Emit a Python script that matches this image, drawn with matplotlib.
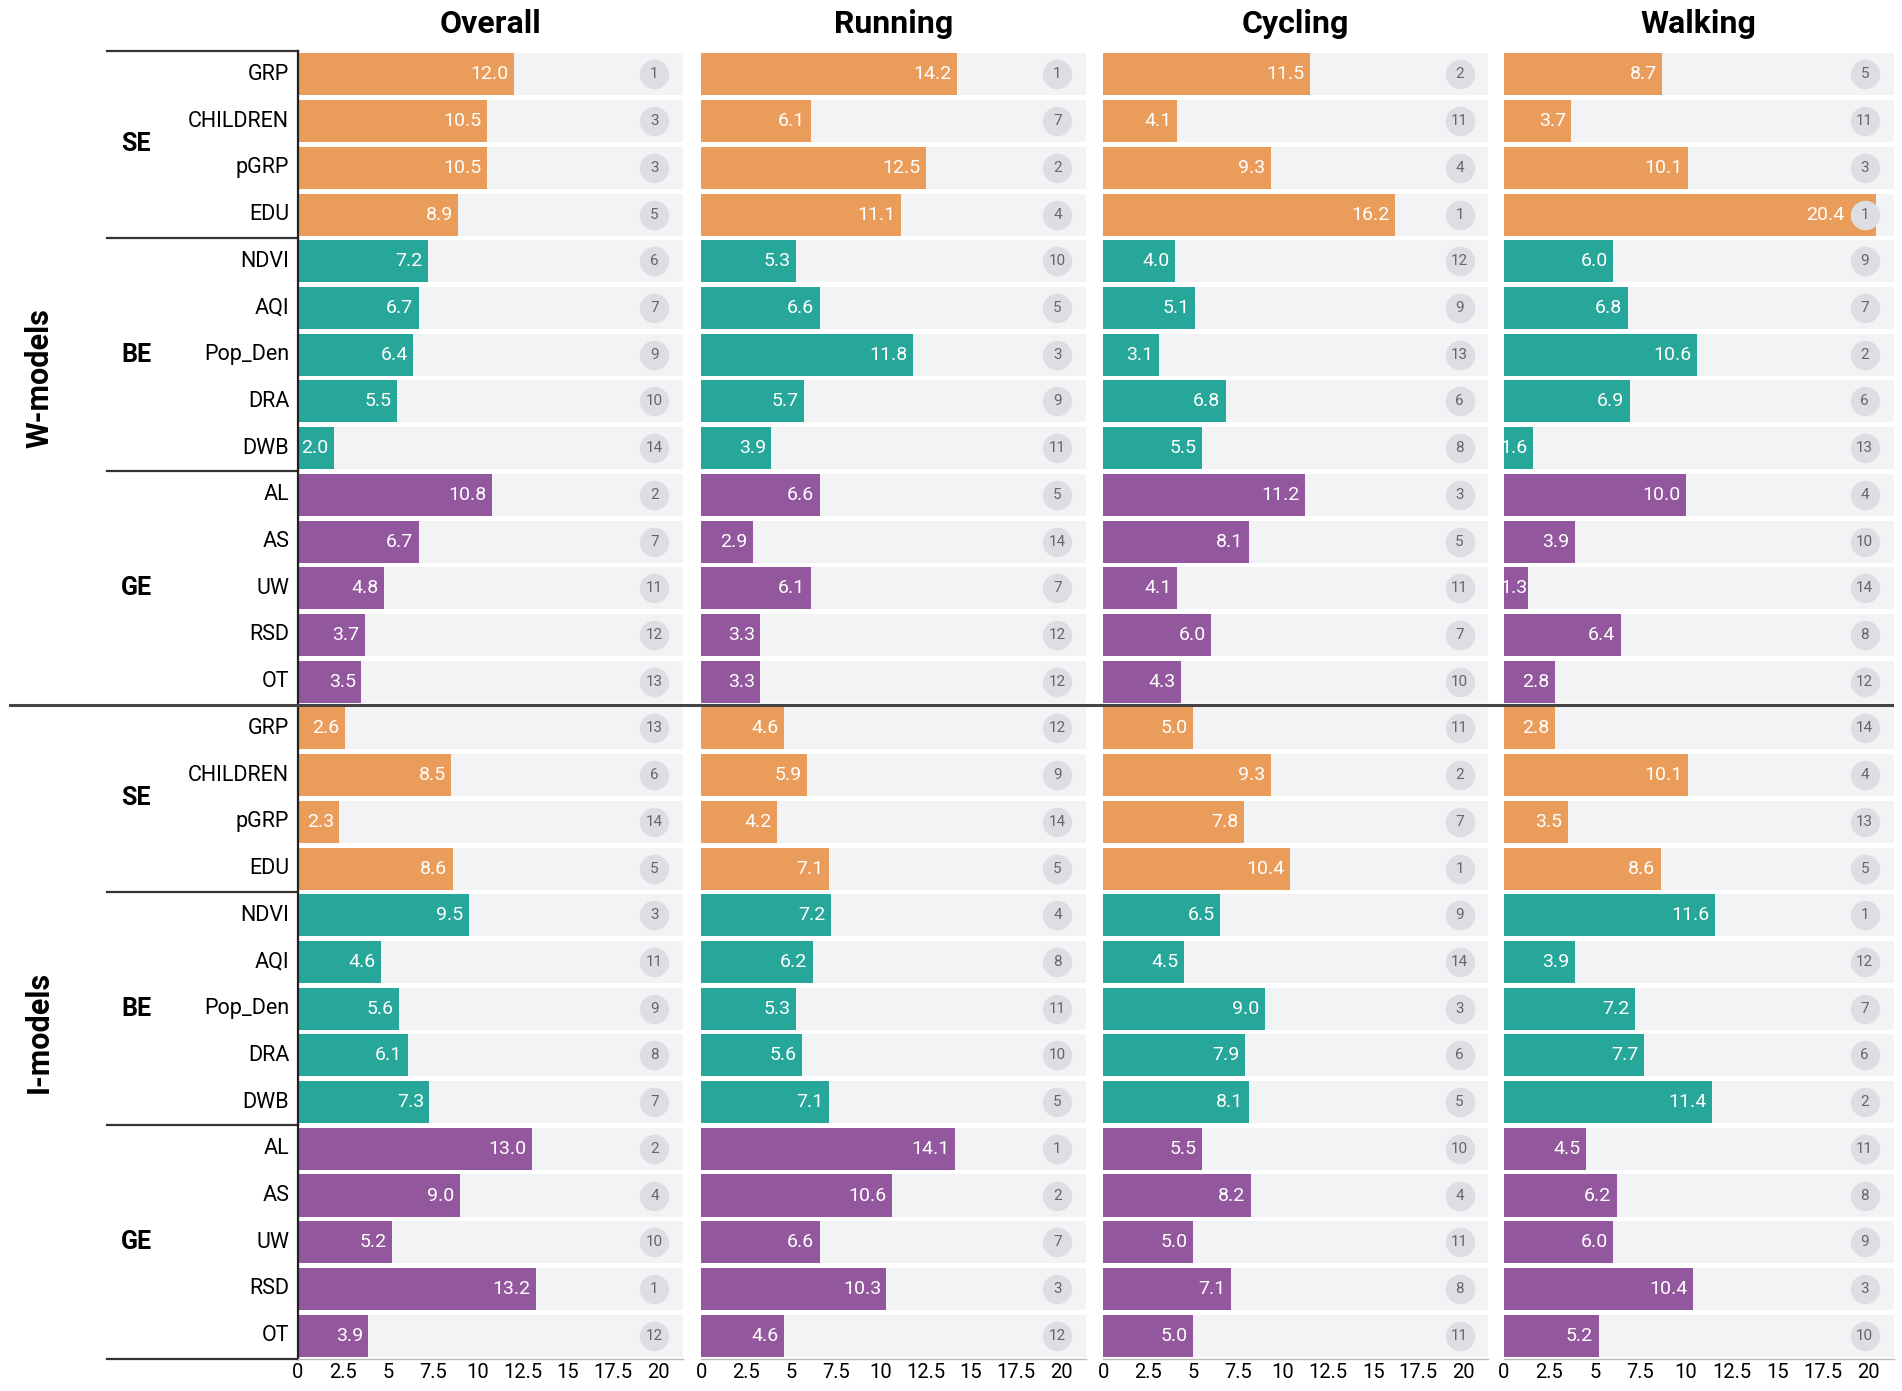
import matplotlib
matplotlib.use("Agg")
import matplotlib.pyplot as plt
import matplotlib.transforms as mtransforms
import numpy as np

plt.rcParams["font.family"] = ["Roboto", "DejaVu Sans"]

# row order, same for both model blocks
features = ["GRP", "CHILDREN", "pGRP", "EDU", "NDVI", "AQI", "Pop_Den", "DRA", "DWB",
            "AL", "AS", "UW", "RSD", "OT"]
groups = ["SE"] * 4 + ["BE"] * 5 + ["GE"] * 5
panels = ["Overall", "Running", "Cycling", "Walking"]

# W-models
w_overall = [12.0, 10.5, 10.5, 8.9, 7.2, 6.7, 6.4, 5.5, 2.0, 10.8, 6.7, 4.8, 3.7, 3.5]
w_running = [14.2, 6.1, 12.5, 11.1, 5.3, 6.6, 11.8, 5.7, 3.9, 6.6, 2.9, 6.1, 3.3, 3.3]
w_cycling = [11.5, 4.1, 9.3, 16.2, 4.0, 5.1, 3.1, 6.8, 5.5, 11.2, 8.1, 4.1, 6.0, 4.3]
w_walking = [8.7, 3.7, 10.1, 20.4, 6.0, 6.8, 10.6, 6.9, 1.6, 10.0, 3.9, 1.3, 6.4, 2.8]
w_overall_rank = [1, 3, 3, 5, 6, 7, 9, 10, 14, 2, 7, 11, 12, 13]
w_running_rank = [1, 7, 2, 4, 10, 5, 3, 9, 11, 5, 14, 7, 12, 12]
w_cycling_rank = [2, 11, 4, 1, 12, 9, 13, 6, 8, 3, 5, 11, 7, 10]
w_walking_rank = [5, 11, 3, 1, 9, 7, 2, 6, 13, 4, 10, 14, 8, 12]

# I-models
i_overall = [2.6, 8.5, 2.3, 8.6, 9.5, 4.6, 5.6, 6.1, 7.3, 13.0, 9.0, 5.2, 13.2, 3.9]
i_running = [4.6, 5.9, 4.2, 7.1, 7.2, 6.2, 5.3, 5.6, 7.1, 14.1, 10.6, 6.6, 10.3, 4.6]
i_cycling = [5.0, 9.3, 7.8, 10.4, 6.5, 4.5, 9.0, 7.9, 8.1, 5.5, 8.2, 5.0, 7.1, 5.0]
i_walking = [2.8, 10.1, 3.5, 8.6, 11.6, 3.9, 7.2, 7.7, 11.4, 4.5, 6.2, 6.0, 10.4, 5.2]
i_overall_rank = [13, 6, 14, 5, 3, 11, 9, 8, 7, 2, 4, 10, 1, 12]
i_running_rank = [12, 9, 14, 5, 4, 8, 11, 10, 5, 1, 2, 7, 3, 12]
i_cycling_rank = [11, 2, 7, 1, 9, 14, 3, 6, 5, 10, 4, 11, 8, 11]
i_walking_rank = [14, 4, 13, 5, 1, 12, 7, 6, 2, 11, 8, 9, 3, 10]

values = [w_overall + i_overall, w_running + i_running,
          w_cycling + i_cycling, w_walking + i_walking]
ranks = [w_overall_rank + i_overall_rank, w_running_rank + i_running_rank,
         w_cycling_rank + i_cycling_rank, w_walking_rank + i_walking_rank]

group_colors = {"SE": "#EA9D5B", "BE": "#27A69A", "GE": "#93579E"}
bar_colors = [group_colors[g] for g in groups] * 2
n_rows = len(features) * 2
y = np.arange(n_rows)

xmax = 21.4
rank_x = 19.8

fig = plt.figure(figsize=(19.02, 13.91), dpi=100)
lefts = [0.1567, 0.3686, 0.5800, 0.7907]
widths = [0.2025, 0.2025, 0.2025, 0.2050]
axes = []
for k, name in enumerate(panels):
    ax = fig.add_axes([lefts[k], 0.023, widths[k], 0.9403])
    axes.append(ax)
    ax.barh(y, xmax, height=0.9, color="#F2F3F5", zorder=1)
    ax.barh(y, values[k], height=0.9, color=bar_colors, zorder=2)
    for yi, v in zip(y, values[k]):
        # label sits just inside the bar end, kept clear of the rank badge
        ax.text(min(max(v - 0.3, 1.3), rank_x - 1.1), yi, f"{v:.1f}", ha="right",
                va="center", color="white", fontsize=14, zorder=4)
    ax.scatter([rank_x] * n_rows, y, s=450, color="#DCDEE1", zorder=3, linewidths=0)
    for yi, r in zip(y, ranks[k]):
        ax.text(rank_x, yi, str(r), ha="center", va="center", color="#666666",
                fontsize=11, zorder=4)
    ax.set_xlim(0, xmax)
    ax.set_ylim(n_rows - 0.5, -0.5)
    ax.set_xticks([0, 2.5, 5, 7.5, 10, 12.5, 15, 17.5, 20])
    ax.set_xticklabels(["0", "2.5", "5", "7.5", "10", "12.5", "15", "17.5", "20"])
    ax.tick_params(axis="x", length=0, labelsize=14.5, pad=3)
    ax.set_yticks([])
    for s in ["top", "right", "left"]:
        ax.spines[s].set_visible(False)
    ax.spines["bottom"].set_color("#BBBBBB")
    ax.spines["bottom"].set_linewidth(1)
    ax.set_title(name, fontsize=23, fontweight="bold", pad=13)

ax0 = axes[0]
ax0.spines["left"].set_visible(True)
ax0.spines["left"].set_color("#222222")
ax0.spines["left"].set_linewidth(1.6)

# row labels
trans = ax0.get_yaxis_transform()
for yi in y:
    ax0.text(-0.023, yi, features[yi % 14], transform=trans, ha="right", va="center",
             fontsize=15.5)

# group labels and bracket lines
for block in range(2):
    off = block * 14
    for g, (a, b) in zip(["SE", "BE", "GE"], [(0, 3), (4, 8), (9, 13)]):
        ax0.text(-0.42, off + (a + b) / 2, g, transform=trans, ha="center", va="center",
                 fontsize=18, fontweight="bold")
    for yb in [off - 0.5, off + 3.5, off + 8.5, off + 13.5]:
        if yb == 13.5:
            continue
        ax0.plot([-0.497, 0], [yb, yb], transform=trans, color="#333333", lw=1.6,
                 clip_on=False)

# model labels
ax0.text(-0.672, 6.5, "W-models", transform=trans, rotation=90, ha="center",
         va="center", fontsize=22, fontweight="bold")
ax0.text(-0.672, 20.5, "I-models", transform=trans, rotation=90, ha="center",
         va="center", fontsize=22, fontweight="bold")

# separator between W and I blocks across the whole figure
blend = mtransforms.blended_transform_factory(fig.transFigure, ax0.transData)
fig.add_artist(plt.Line2D([0.005, 0.995], [13.5, 13.5], transform=blend,
                          color="#444444", lw=2.2))

fig.savefig("out.png", dpi=100)
